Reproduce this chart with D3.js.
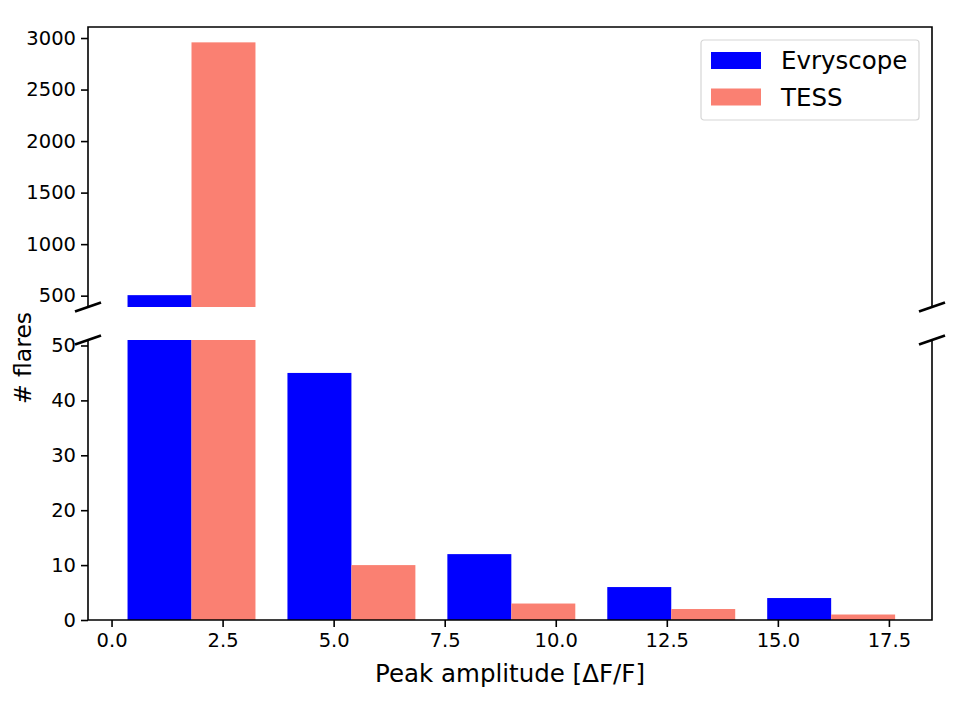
<!DOCTYPE html>
<html>
<head>
<meta charset="utf-8">
<script src="https://cdn.jsdelivr.net/npm/d3@7"></script>
<style>
  body { margin: 0; background: #fff; }
  svg { font-family: "DejaVu Sans", sans-serif; }
</style>
</head>
<body>
<div id="chart"></div>
<script>
// histogram bins and counts
const binEdges = [0, 3.6, 7.2, 10.8, 14.4, 18.0];
const evryscope = [505, 45, 12, 6, 4];
const tess = [2958, 10, 3, 2, 1];
const seriesNames = ["Evryscope", "TESS"];
const seriesColors = ["#0000ff", "#fa8072"];
const xTicks = [0, 2.5, 5, 7.5, 10, 12.5, 15, 17.5];
const topTicks = [500, 1000, 1500, 2000, 2500, 3000];
const bottomTicks = [0, 10, 20, 30, 40, 50];

const W = 960, H = 720;
const left = 88, right = 932;
const top1 = 27, bot1 = 307;   // upper panel
const top2 = 340, bot2 = 620;  // lower panel

const svg = d3.select("#chart").append("svg")
  .attr("width", W)
  .attr("height", H);

const x = d3.scaleLinear().domain([-0.53, 18.47]).range([left, right]);
const yTop = d3.scaleLinear().domain([390, 3107]).range([bot1, top1]);
const yBot = d3.scaleLinear().domain([0, 51]).range([bot2, top2]);

// side-by-side hist bars, rwidth 0.8 split between the two series
const bars = [];
[evryscope, tess].forEach((counts, s) => {
  counts.forEach((c, i) => {
    const w = binEdges[i + 1] - binEdges[i];
    const bw = w * 0.8 / 2;
    const x0 = binEdges[i] + w * 0.1 + s * bw;
    bars.push({ s, x0, x1: x0 + bw, c });
  });
});

const defs = svg.append("defs");
defs.append("clipPath").attr("id", "clipTop").append("rect")
  .attr("x", left).attr("y", top1).attr("width", right - left).attr("height", bot1 - top1);
defs.append("clipPath").attr("id", "clipBot").append("rect")
  .attr("x", left).attr("y", top2).attr("width", right - left).attr("height", bot2 - top2);

function drawBars(yScale, clipId) {
  svg.append("g").attr("clip-path", `url(#${clipId})`)
    .selectAll("rect")
    .data(bars)
    .enter()
    .append("rect")
    .attr("x", d => x(d.x0))
    .attr("width", d => x(d.x1) - x(d.x0))
    .attr("y", d => yScale(d.c))
    .attr("height", d => Math.max(0, yScale(0) - yScale(d.c)))
    .attr("fill", d => seriesColors[d.s]);
}
drawBars(yTop, "clipTop");
drawBars(yBot, "clipBot");

// axes
const tickFont = "19.5px";
const gTop = svg.append("g").attr("transform", `translate(${left},0)`)
  .call(d3.axisLeft(yTop).tickValues(topTicks).tickFormat(d3.format("d")).tickSize(7).tickPadding(5));
const gBot = svg.append("g").attr("transform", `translate(${left},0)`)
  .call(d3.axisLeft(yBot).tickValues(bottomTicks).tickFormat(d3.format("d")).tickSize(7).tickPadding(5));
const gX = svg.append("g").attr("transform", `translate(0,${bot2})`)
  .call(d3.axisBottom(x).tickValues(xTicks).tickFormat(d3.format(".1f")).tickSize(7).tickPadding(6));

[gTop, gBot, gX].forEach(g => {
  g.select(".domain").remove();
  g.selectAll(".tick line").attr("stroke", "#000").attr("stroke-width", 1.6);
  g.selectAll(".tick text").attr("fill", "#000").style("font-size", tickFont)
    .style("font-family", "DejaVu Sans");
});

// spines
function path(d) {
  svg.append("path").attr("d", d)
    .attr("stroke", "#000").attr("stroke-width", 1.6).attr("fill", "none");
}
path(`M${left},${bot1}V${top1}H${right}V${bot1}`);
path(`M${left},${top2}V${bot2}H${right}V${top2}`);

// break marks
const dx = 13, dy = 4.5;
[left, right].forEach(cx => {
  [bot1, top2].forEach(cy => {
    svg.append("line")
      .attr("x1", cx - dx).attr("y1", cy + dy)
      .attr("x2", cx + dx).attr("y2", cy - dy)
      .attr("stroke", "#000").attr("stroke-width", 2.6);
  });
});

// labels
svg.append("text")
  .attr("x", 510)
  .attr("y", 682)
  .attr("text-anchor", "middle")
  .style("font-size", "24.5px")
  .text("Peak amplitude [ΔF/F]");

svg.append("text")
  .attr("transform", "translate(31,358) rotate(-90)")
  .attr("text-anchor", "middle")
  .style("font-size", "23.5px")
  .text("# flares");

// legend
const legend = svg.append("g").attr("transform", "translate(701,40)");
legend.append("rect")
  .attr("width", 218).attr("height", 80)
  .attr("rx", 3)
  .attr("fill", "#fff").attr("fill-opacity", 0.8)
  .attr("stroke", "#d6d6d6").attr("stroke-width", 1.2);
seriesNames.forEach((name, i) => {
  const row = legend.append("g").attr("transform", `translate(0,${12 + i * 36.5})`);
  row.append("rect")
    .attr("x", 10).attr("width", 50).attr("height", 17)
    .attr("fill", seriesColors[i]);
  row.append("text")
    .attr("x", 80).attr("y", 17)
    .style("font-size", "24.5px")
    .text(name);
});
</script>
</body>
</html>
